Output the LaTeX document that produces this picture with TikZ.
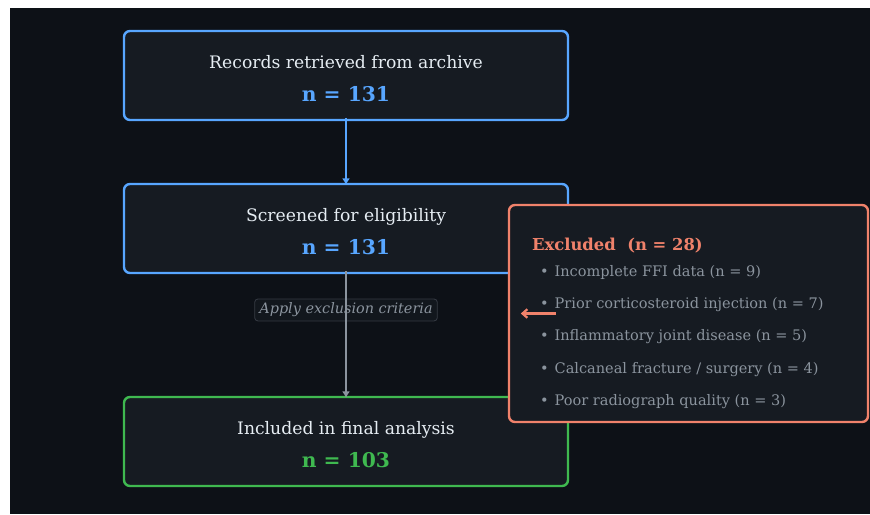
\documentclass[tikz,border=0pt]{standalone}
\usepackage{fontspec}
\setmainfont{DejaVu Serif}
\usetikzlibrary{shapes,arrows,arrows.meta,positioning}
\definecolor{bgdark}{HTML}{0D1117}
\definecolor{boxdark}{HTML}{161B22}
\definecolor{accblue}{HTML}{58A6FF}
\definecolor{accgreen}{HTML}{3FB950}
\definecolor{accorange}{HTML}{F0826B}
\definecolor{txtlight}{HTML}{E6EDF3}
\definecolor{txtgrey}{HTML}{8B949E}
\definecolor{rimgrey}{HTML}{363B44}
\newcommand{\stagecount}[2]{{\fontsize{15.2}{18}\selectfont\bfseries\color{#1}#2}}
\newcommand{\stagetitle}[1]{\rule{0pt}{14.5pt}#1}
\tikzset{
stage/.style = {draw, fill=boxdark, rectangle, rounded corners=4.5pt, line width=1.8pt,
  minimum width=333pt, minimum height=66.75pt, align=center, text=txtlight,
  font=\fontsize{12.9}{15.5}\selectfont},
crit/.style = {draw=rimgrey, fill=boxdark, fill opacity=0.6, text opacity=1,
  rectangle, rounded corners=2.5pt, line width=0.6pt,
  minimum width=137pt, minimum height=16.5pt, inner sep=1pt, text=txtgrey,
  font=\fontsize{10.8}{12}\selectfont\itshape},
excl/.style = {draw=accorange, fill=boxdark, rectangle, rounded corners=4.5pt,
  line width=1.8pt, minimum width=269.25pt, minimum height=162.75pt},
exhead/.style = {anchor=west, inner sep=0pt, text=accorange,
  font=\fontsize{12.3}{14}\selectfont\bfseries},
exitem/.style = {anchor=west, inner sep=0pt, text=txtgrey,
  font=\fontsize{10.9}{13}\selectfont},
link/.style = {-{Latex[length=4.8pt,width=6pt]}, line width=1.6pt},
exlink/.style = {-{Straight Barb[length=3.6pt,width=6.4pt]}, line width=1.7pt}
}
\begin{document}
\begin{tikzpicture}[x=0.75pt, y=-0.75pt]
    % page and dark panel
    \fill [white] (0,0) rectangle (870,514);
    \fill [bgdark] (10,8) rectangle (870,514);

    % the three stages
    \node [stage, draw=accblue] at (346,75.5) (records)
        {\stagetitle{Records retrieved from archive}\\[9pt]\stagecount{accblue}{n = 131}};
    \node [stage, draw=accblue, below of=records, node distance=114.75pt] (screened)
        {\stagetitle{Screened for eligibility}\\[9pt]\stagecount{accblue}{n = 131}};
    \node [stage, draw=accgreen, below of=screened, node distance=159.75pt] (included)
        {\stagetitle{Included in final analysis}\\[9pt]\stagecount{accgreen}{n = 103}};
    \node [crit, below of=screened, node distance=61.1pt] (apply) {Apply exclusion criteria};

    % excluded records
    \node [excl] at (688.5,313.5) (excl) {};
    \node [exhead] at ([shift={(24,41.5)}]excl.north west) (exhead) {Excluded\ \ (n = 28)};
    \foreach \reason [count=\i] in {{Incomplete FFI data (n = 9)},
        {Prior corticosteroid injection (n = 7)},
        {Inflammatory joint disease (n = 5)},
        {Calcaneal fracture / surgery (n = 4)},
        {Poor radiograph quality (n = 3)}}
        \node [exitem] at ([shift={(32,35.8+32.4*\i)}]excl.north west) (item\i)
            {\textbullet\hspace{4.5pt}\reason};

    % connectors
    \draw [link, accblue, shorten <=-2.5pt, shorten >=-1.5pt] (records.south) -- (screened.north);
    \draw [link, txtgrey, shorten <=-2.5pt, shorten >=-1.5pt] (screened.south) -- (included.north);
    \coordinate (exfrom) at ([xshift=36pt]excl.west);
    \coordinate (exto) at ([xshift=9.75pt]excl.west);
    \draw [exlink, accorange] (exfrom) -- (exto);
\end{tikzpicture}
\end{document}
